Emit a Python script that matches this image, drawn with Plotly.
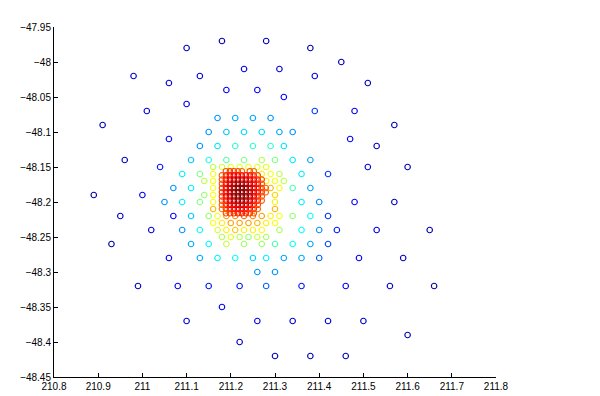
import plotly.graph_objects as go

# ---------------- data ----------------
# outer, sparse points (blue)
outer_x = [211.18, 211.28, 211.10, 211.38, 211.45, 211.23, 211.31, 210.98, 211.13, 211.39,
           211.06, 211.51, 211.19, 211.26, 211.32, 211.10, 211.01, 211.39, 211.48, 210.91,
           211.57, 211.06, 211.47, 211.53, 210.96, 211.04, 211.51, 211.60, 211.42, 210.89,
           211.00, 211.48, 211.57, 210.95, 211.07, 211.42, 211.02, 211.44, 211.53, 211.65,
           210.93, 211.42, 211.06, 211.40, 211.49, 211.59, 210.99, 211.08, 211.15, 211.22,
           211.28, 211.36, 211.46, 211.56, 211.66, 211.18, 211.10, 211.26, 211.34, 211.42,
           211.50, 211.60, 211.22, 211.30, 211.38, 211.46]
outer_y = [-47.97, -47.97, -47.98, -47.98, -48.00, -48.01, -48.01, -48.02, -48.02, -48.02,
           -48.03, -48.03, -48.04, -48.04, -48.05, -48.06, -48.07, -48.07, -48.07, -48.09,
           -48.09, -48.11, -48.11, -48.12, -48.14, -48.15, -48.15, -48.15, -48.16, -48.19,
           -48.19, -48.20, -48.20, -48.22, -48.22, -48.22, -48.24, -48.24, -48.24, -48.24,
           -48.26, -48.26, -48.28, -48.28, -48.28, -48.28, -48.32, -48.32, -48.32, -48.32,
           -48.32, -48.32, -48.32, -48.32, -48.32, -48.35, -48.37, -48.37, -48.37, -48.37,
           -48.37, -48.39, -48.40, -48.42, -48.42, -48.42]
outer_c = [0.04, 0.04, 0.06, 0.04, 0.04, 0.08, 0.08, 0.06, 0.08, 0.11,
           0.08, 0.06, 0.11, 0.11, 0.12, 0.09, 0.08, 0.18, 0.10, 0.04,
           0.04, 0.13, 0.12, 0.06, 0.06, 0.15, 0.09, 0.04, 0.18, 0.02,
           0.11, 0.13, 0.06, 0.06, 0.13, 0.18, 0.08, 0.15, 0.09, 0.04,
           0.02, 0.20, 0.11, 0.22, 0.12, 0.06, 0.06, 0.12, 0.15, 0.15,
           0.22, 0.15, 0.12, 0.08, 0.02, 0.11, 0.08, 0.11, 0.08, 0.08,
           0.08, 0.04, 0.06, 0.04, 0.04, 0.04]

# middle ring (light blue -> yellow)
ring_x = [211.17, 211.21, 211.25, 211.29,
          211.15, 211.19, 211.23, 211.27, 211.31, 211.34,
          211.13, 211.17, 211.21, 211.25, 211.29, 211.32,
          211.11, 211.15, 211.19, 211.23, 211.27, 211.30, 211.34, 211.38,
          211.16, 211.18, 211.20, 211.22, 211.24, 211.26, 211.28,
          211.09, 211.13, 211.16, 211.27, 211.29, 211.31, 211.36,
          211.14, 211.16, 211.28, 211.30, 211.32,
          211.07, 211.11, 211.16, 211.29, 211.31, 211.34, 211.38,
          211.14, 211.16, 211.30,
          211.05, 211.09, 211.13, 211.16, 211.30, 211.36, 211.40,
          211.16, 211.30,
          211.11, 211.15, 211.17, 211.19, 211.21, 211.23, 211.25, 211.27, 211.29, 211.31, 211.34, 211.38,
          211.16, 211.18, 211.20, 211.22, 211.24, 211.26, 211.28, 211.30,
          211.09, 211.13, 211.17, 211.19, 211.21, 211.23, 211.25, 211.27, 211.31, 211.36, 211.40,
          211.18, 211.20, 211.22, 211.24, 211.26, 211.28,
          211.11, 211.15, 211.19, 211.23, 211.27, 211.30, 211.34, 211.38,
          211.13, 211.17, 211.21, 211.25, 211.28, 211.32, 211.36,
          211.26, 211.30]
ring_y = [-48.08] * 4 + [-48.10] * 6 + [-48.12] * 6 + [-48.14] * 8 + [-48.15] * 7 + \
         [-48.16] * 7 + [-48.17] * 5 + [-48.18] * 7 + [-48.19] * 3 + [-48.20] * 7 + \
         [-48.21] * 2 + [-48.22] * 12 + [-48.23] * 8 + [-48.24] * 11 + [-48.25] * 6 + \
         [-48.26] * 8 + [-48.28] * 7 + [-48.30] * 2
ring_c = [0.27, 0.29, 0.29, 0.27,
          0.27, 0.32, 0.34, 0.34, 0.29, 0.27,
          0.27, 0.35, 0.42, 0.42, 0.42, 0.35,
          0.32, 0.40, 0.46, 0.50, 0.55, 0.50, 0.36, 0.29,
          0.56, 0.58, 0.60, 0.60, 0.60, 0.60, 0.60,
          0.36, 0.50, 0.62, 0.64, 0.62, 0.56, 0.36,
          0.56, 0.62, 0.64, 0.62, 0.56,
          0.27, 0.36, 0.62, 0.70, 0.63, 0.45, 0.29,
          0.52, 0.62, 0.67,
          0.27, 0.36, 0.50, 0.63, 0.64, 0.36, 0.26,
          0.70, 0.70,
          0.32, 0.52, 0.62, 0.72, 0.74, 0.78, 0.74, 0.72, 0.64, 0.62, 0.52, 0.38,
          0.62, 0.64, 0.72, 0.72, 0.72, 0.70, 0.64, 0.62,
          0.27, 0.38, 0.58, 0.64, 0.68, 0.64, 0.64, 0.63, 0.54, 0.38, 0.27,
          0.55, 0.60, 0.55, 0.52, 0.57, 0.54,
          0.29, 0.37, 0.57, 0.53, 0.53, 0.45, 0.38, 0.29,
          0.29, 0.36, 0.38, 0.33, 0.36, 0.29, 0.29,
          0.27, 0.27]

# dense core (orange -> dark red); 0 = no point
core_cols = [211.180, 211.189, 211.198, 211.207, 211.216, 211.225,
             211.234, 211.243, 211.252, 211.261, 211.270, 211.279]
core_rows = [-48.156, -48.162, -48.168, -48.174, -48.180, -48.186,
             -48.192, -48.198, -48.204, -48.210, -48.216]
core_vals = [
    [0, .80, .82, .82, .80, .78, 0, .80, .78, 0, 0, 0],
    [.78, .84, .86, .88, .88, .86, .86, .86, .84, .80, 0, 0],
    [.80, .86, .90, .92, .93, .93, .92, .90, .88, .84, .80, 0],
    [.80, .88, .92, .95, .96, .96, .95, .92, .90, .86, .80, 0],
    [.82, .88, .93, .97, 1.0, 1.0, .98, .95, .90, .86, .82, .78],
    [.82, .88, .94, .98, 1.0, 1.0, .99, .95, .91, .86, .82, .78],
    [.82, .88, .93, .97, .99, .99, .98, .95, .90, .86, .80, 0],
    [.80, .86, .91, .95, .97, .97, .96, .93, .89, .84, .78, 0],
    [.78, .85, .89, .92, .93, .93, .92, .90, .86, .82, 0, 0],
    [.76, .82, .86, .88, .89, .89, .88, .86, .83, .78, 0, 0],
    [0, .80, .82, .84, .85, .85, .84, .82, .80, 0, 0, 0],
]

x_ticks = [210.8, 210.9, 211.0, 211.1, 211.2, 211.3, 211.4, 211.5, 211.6, 211.7, 211.8]
x_labels = ["210.8", "210.9", "211", "211.1", "211.2", "211.3", "211.4", "211.5", "211.6", "211.7", "211.8"]
y_ticks = [-47.95, -48.0, -48.05, -48.1, -48.15, -48.2, -48.25, -48.3, -48.35, -48.4, -48.45]
y_labels = ["\u221247.95", "\u221248", "\u221248.05", "\u221248.1", "\u221248.15", "\u221248.2",
            "\u221248.25", "\u221248.3", "\u221248.35", "\u221248.4", "\u221248.45"]

# ---------------- figure ----------------
jet = [[0.0, "rgb(0,0,143)"], [0.125, "rgb(0,0,255)"], [0.375, "rgb(0,255,255)"],
       [0.625, "rgb(255,255,0)"], [0.875, "rgb(255,0,0)"], [1.0, "rgb(128,0,0)"]]

core_x, core_y, core_c = [], [], []
for ry, row in zip(core_rows, core_vals):
    for cx, v in zip(core_cols, row):
        if v:
            core_x.append(cx)
            core_y.append(ry)
            core_c.append(v)

fig = go.Figure()
for xs, ys, cs in [(outer_x, outer_y, outer_c), (ring_x, ring_y, ring_c), (core_x, core_y, core_c)]:
    fig.add_trace(go.Scatter(
        x=xs, y=ys, mode="markers",
        marker=dict(symbol="circle-open", size=5.5, color=cs, colorscale=jet,
                    cmin=0, cmax=1, line=dict(width=1.1)),
        showlegend=False, hoverinfo="x+y"))

axis_common = dict(showline=True, linecolor="black", linewidth=1, ticks="inside",
                   ticklen=4, tickcolor="black", showgrid=False, zeroline=False,
                   mirror=False, tickfont=dict(family="Liberation Sans, Arial", size=10, color="black"))
fig.update_layout(
    width=600, height=396,
    margin=dict(l=41, r=112, t=19, b=26),
    paper_bgcolor="white", plot_bgcolor="white",
    xaxis=dict(range=[210.8, 211.8], tickvals=x_ticks, ticktext=x_labels, **axis_common),
    yaxis=dict(range=[-48.45, -47.95], tickvals=y_ticks, ticktext=y_labels, **axis_common),
)
fig.write_html("out.html")
